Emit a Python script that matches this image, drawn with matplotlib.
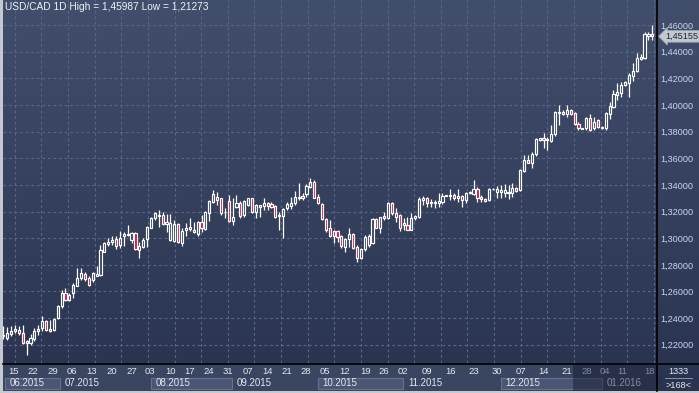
import numpy as np
import matplotlib
matplotlib.use('Agg')
import matplotlib.pyplot as plt
import matplotlib.transforms as mtransforms
from matplotlib.colors import LinearSegmentedColormap
from matplotlib.patches import Rectangle
from matplotlib.lines import Line2D

plt.rcParams['font.family'] = ['Liberation Sans', 'DejaVu Sans']

# daily USD/CAD candles, 168 bars (Jun 2015 - Jan 2016)
opens = [1.2265, 1.2250, 1.2280, 1.2300, 1.2313, 1.2288, 1.2225, 1.2213, 1.2245, 1.2300,
         1.2325, 1.2375, 1.2320, 1.2313, 1.2400, 1.2488, 1.2588, 1.2535, 1.2588, 1.2645,
         1.2700, 1.2733, 1.2700, 1.2688, 1.2720, 1.2725, 1.2900, 1.2955, 1.2970, 1.2995,
         1.2950, 1.3020, 1.3025, 1.2985, 1.3036, 1.2912, 1.2937, 1.2994, 1.3079, 1.3149,
         1.3169, 1.3174, 1.3104, 1.2987, 1.2979, 1.3104, 1.2962, 1.3062, 1.3087, 1.3059,
         1.3029, 1.3119, 1.3069, 1.3187, 1.3274, 1.3307, 1.3299, 1.3194, 1.3279, 1.3129,
         1.3237, 1.3262, 1.3174, 1.3249, 1.3299, 1.3199, 1.3237, 1.3244, 1.3244, 1.3254,
         1.3244, 1.3169, 1.3169, 1.3224, 1.3244, 1.3262, 1.3299, 1.3317, 1.3329, 1.3387,
         1.3419, 1.3312, 1.3254, 1.3144, 1.3079, 1.3054, 1.3054, 1.3017, 1.2937, 1.2994,
         1.3029, 1.2937, 1.2854, 1.2919, 1.2949, 1.2962, 1.3142, 1.3079, 1.3169, 1.3154,
         1.3267, 1.3187, 1.3174, 1.3099, 1.3099, 1.3062, 1.3149, 1.3162, 1.3287, 1.3299,
         1.3262, 1.3262, 1.3262, 1.3274, 1.3317, 1.3319, 1.3324, 1.3299, 1.3317, 1.3287,
         1.3337, 1.3329, 1.3367, 1.3307, 1.3282, 1.3287, 1.3367, 1.3349, 1.3349, 1.3342,
         1.3337, 1.3337, 1.3374, 1.3362, 1.3507, 1.3587, 1.3563, 1.3630, 1.3738, 1.3750,
         1.3735, 1.3730, 1.3780, 1.3938, 1.3933, 1.3930, 1.3963, 1.3938, 1.3855, 1.3818,
         1.3825, 1.3900, 1.3825, 1.3885, 1.3825, 1.3825, 1.3930, 1.3988, 1.4075, 1.4088,
         1.4150, 1.4163, 1.4220, 1.4255, 1.4345, 1.4350, 1.4520, 1.4530]
highs = [1.2338, 1.2330, 1.2338, 1.2350, 1.2338, 1.2350, 1.2238, 1.2280, 1.2325, 1.2350,
         1.2413, 1.2388, 1.2388, 1.2400, 1.2500, 1.2613, 1.2625, 1.2588, 1.2663, 1.2775,
         1.2775, 1.2750, 1.2713, 1.2750, 1.2788, 1.2950, 1.2975, 1.3005, 1.3013, 1.3013,
         1.3055, 1.3050, 1.3100, 1.3050, 1.3049, 1.2974, 1.2999, 1.3092, 1.3162, 1.3199,
         1.3212, 1.3199, 1.3179, 1.3179, 1.3137, 1.3112, 1.3074, 1.3112, 1.3149, 1.3124,
         1.3129, 1.3174, 1.3204, 1.3287, 1.3362, 1.3349, 1.3305, 1.3224, 1.3324, 1.3299,
         1.3324, 1.3279, 1.3287, 1.3304, 1.3304, 1.3254, 1.3252, 1.3299, 1.3274, 1.3269,
         1.3249, 1.3199, 1.3229, 1.3269, 1.3312, 1.3354, 1.3412, 1.3337, 1.3404, 1.3454,
         1.3437, 1.3329, 1.3262, 1.3149, 1.3137, 1.3062, 1.3062, 1.3024, 1.3004, 1.3079,
         1.3037, 1.2949, 1.2929, 1.3024, 1.3029, 1.3149, 1.3149, 1.3162, 1.3199, 1.3274,
         1.3274, 1.3229, 1.3179, 1.3149, 1.3162, 1.3187, 1.3174, 1.3312, 1.3317, 1.3312,
         1.3292, 1.3287, 1.3342, 1.3342, 1.3326, 1.3367, 1.3342, 1.3367, 1.3324, 1.3349,
         1.3351, 1.3437, 1.3387, 1.3324, 1.3299, 1.3374, 1.3374, 1.3392, 1.3399, 1.3404,
         1.3399, 1.3412, 1.3382, 1.3517, 1.3624, 1.3624, 1.3650, 1.3755, 1.3755, 1.3788,
         1.3763, 1.3850, 1.3955, 1.4000, 1.3963, 1.4000, 1.3970, 1.3945, 1.3875, 1.3827,
         1.3913, 1.3930, 1.3913, 1.3895, 1.3845, 1.3945, 1.4020, 1.4113, 1.4163, 1.4175,
         1.4180, 1.4238, 1.4313, 1.4388, 1.4380, 1.4550, 1.4550, 1.45987]
lows = [1.2245, 1.2238, 1.2263, 1.2288, 1.2275, 1.2205, 1.2127, 1.2200, 1.2230, 1.2275,
        1.2305, 1.2300, 1.2295, 1.2300, 1.2393, 1.2475, 1.2530, 1.2530, 1.2550, 1.2638,
        1.2688, 1.2680, 1.2645, 1.2675, 1.2713, 1.2720, 1.2895, 1.2945, 1.2950, 1.2920,
        1.2925, 1.2938, 1.3013, 1.2965, 1.2912, 1.2854, 1.2924, 1.2937, 1.3074, 1.3137,
        1.3087, 1.3099, 1.3049, 1.2979, 1.2974, 1.2962, 1.2944, 1.3019, 1.3057, 1.3037,
        1.3019, 1.3049, 1.3062, 1.3129, 1.3262, 1.3249, 1.3174, 1.3149, 1.3124, 1.3099,
        1.3224, 1.3149, 1.3162, 1.3244, 1.3187, 1.3149, 1.3162, 1.3212, 1.3212, 1.3224,
        1.3149, 1.3062, 1.3004, 1.3212, 1.3219, 1.3249, 1.3287, 1.3287, 1.3312, 1.3374,
        1.3299, 1.3254, 1.3137, 1.3049, 1.3012, 1.2967, 1.2974, 1.2924, 1.2894, 1.2937,
        1.2919, 1.2824, 1.2844, 1.2904, 1.2937, 1.2954, 1.3074, 1.3037, 1.3137, 1.3144,
        1.3174, 1.3124, 1.3054, 1.3062, 1.3058, 1.3058, 1.3137, 1.3149, 1.3249, 1.3237,
        1.3237, 1.3224, 1.3237, 1.3257, 1.3315, 1.3287, 1.3287, 1.3274, 1.3237, 1.3267,
        1.3335, 1.3324, 1.3274, 1.3274, 1.3274, 1.3282, 1.3362, 1.3299, 1.3299, 1.3307,
        1.3292, 1.3312, 1.3349, 1.3357, 1.3499, 1.3562, 1.3525, 1.3620, 1.3730, 1.3675,
        1.3663, 1.3720, 1.3770, 1.3850, 1.3925, 1.3913, 1.3925, 1.3850, 1.3813, 1.3816,
        1.3813, 1.3805, 1.3813, 1.3830, 1.3820, 1.3813, 1.3895, 1.3975, 1.4038, 1.4063,
        1.4145, 1.4063, 1.4180, 1.4245, 1.4338, 1.4345, 1.4488, 1.4488]
closes = [1.2275, 1.2288, 1.2305, 1.2315, 1.2288, 1.2213, 1.2210, 1.2250, 1.2300, 1.2318,
          1.2375, 1.2313, 1.2300, 1.2393, 1.2493, 1.2588, 1.2538, 1.2570, 1.2650, 1.2700,
          1.2738, 1.2695, 1.2650, 1.2738, 1.2730, 1.2913, 1.2963, 1.2970, 1.2988, 1.2945,
          1.3000, 1.3030, 1.3030, 1.3040, 1.2919, 1.2942, 1.2987, 1.3087, 1.3149, 1.3187,
          1.3174, 1.3104, 1.3119, 1.3112, 1.3104, 1.2974, 1.3054, 1.3079, 1.3067, 1.3044,
          1.3119, 1.3074, 1.3199, 1.3279, 1.3329, 1.3287, 1.3187, 1.3199, 1.3129, 1.3162,
          1.3262, 1.3167, 1.3279, 1.3299, 1.3199, 1.3249, 1.3249, 1.3262, 1.3262, 1.3237,
          1.3162, 1.3174, 1.3219, 1.3254, 1.3262, 1.3312, 1.3312, 1.3299, 1.3394, 1.3424,
          1.3304, 1.3262, 1.3144, 1.3062, 1.3019, 1.3017, 1.3012, 1.2942, 1.2994, 1.3029,
          1.2929, 1.2854, 1.2919, 1.3012, 1.3017, 1.3142, 1.3079, 1.3157, 1.3154, 1.3267,
          1.3187, 1.3162, 1.3074, 1.3112, 1.3062, 1.3149, 1.3167, 1.3292, 1.3299, 1.3267,
          1.3274, 1.3269, 1.3282, 1.3317, 1.3324, 1.3324, 1.3299, 1.3317, 1.3287, 1.3342,
          1.3349, 1.3367, 1.3299, 1.3292, 1.3292, 1.3367, 1.3372, 1.3367, 1.3362, 1.3362,
          1.3349, 1.3379, 1.3357, 1.3512, 1.3587, 1.3567, 1.3630, 1.3745, 1.3750, 1.3735,
          1.3745, 1.3780, 1.3945, 1.3950, 1.3950, 1.3963, 1.3930, 1.3855, 1.3825, 1.3825,
          1.3900, 1.3813, 1.3870, 1.3838, 1.3838, 1.3938, 1.3995, 1.4080, 1.4095, 1.4150,
          1.4175, 1.4225, 1.4255, 1.4355, 1.4363, 1.4530, 1.4530, 1.45155]

price_ticks = [1.22, 1.24, 1.26, 1.28, 1.30, 1.32, 1.34, 1.36, 1.38, 1.40, 1.42, 1.44, 1.46]

# weekly day labels, placed at bar index
day_pos = [2.75, 7.6, 12.8, 17.7, 22.8, 28, 33.1, 37.7, 42.9, 48, 52.9, 57.8, 63, 67.9, 73, 77.9,
           82.8, 87.9, 93.1, 98, 102.9, 109, 115.2, 121.1, 127, 133.2, 139.1, 145.1, 150.2,
           154.8, 159.2, 166.2]
day_labels = ['15', '22', '29', '06', '13', '20', '27', '03', '10', '17', '24', '31', '07', '14',
              '21', '28', '05', '12', '19', '26', '02', '09', '16', '23', '30', '07', '14', '21',
              '28', '04', '11', '18']

month_start = [0.4, 14.6, 37.9, 58.9, 81, 102.9, 128, 154, 168.2]
month_labels = ['06.2015', '07.2015', '08.2015', '09.2015', '10.2015', '11.2015', '12.2015', '01.2016']

W, H = 699, 393
fig = plt.figure(figsize=(W / 100, H / 100), dpi=100)
fig.patch.set_facecolor('#c4c8d0')


def px_axes(x0, y0, x1, y1):
    # box in pixels, measured from the top left corner
    return fig.add_axes([x0 / W, 1 - y1 / H, (x1 - x0) / W, (y1 - y0) / H])


# gradient background
bg = px_axes(3, 0, 699, 391)
cmap = LinearSegmentedColormap.from_list('bg', ['#414e6c', '#29334f'])
bg.imshow(np.linspace(0, 1, 256)[:, None], aspect='auto', cmap=cmap, extent=[0, 1, 0, 1])
bg.axis('off')

ax = px_axes(3, 0, 657, 363)
ax.patch.set_alpha(0)
ax.set_xlim(-0.08, 168.2)
ax.set_ylim(1.20633, 1.4788)

grid_kw = dict(color='#5a6685', linewidth=0.8, linestyle=(0, (2.5, 2.5)), zorder=1)
for p in price_ticks:
    ax.axhline(p, **grid_kw)
for gx in np.arange(2.97, 168, 6.85):
    ax.axvline(gx, **grid_kw)

o = np.array(opens); h = np.array(highs); l = np.array(lows); c = np.array(closes)
x = np.arange(len(o))
top = np.maximum(o, c)
bot = np.minimum(o, c)
ax.vlines(x, top, h, color='white', linewidth=0.9, zorder=3)
ax.vlines(x, l, bot, color='white', linewidth=0.9, zorder=3)
up = c >= o
ax.bar(x[up], (top - bot)[up], bottom=bot[up], width=0.55, facecolor='#34405e',
       edgecolor='white', linewidth=0.85, zorder=4)
ax.bar(x[~up], (top - bot)[~up], bottom=bot[~up], width=0.55, facecolor='#d8103c',
       edgecolor='white', linewidth=0.85, zorder=4)

for s in ax.spines.values():
    s.set_visible(False)
ax.set_xticks([])
ax.yaxis.tick_right()
ax.set_yticks(price_ticks)
ax.set_yticklabels([f'{p:.5f}'.replace('.', ',') for p in price_ticks])
ax.tick_params(axis='y', length=0, pad=2.5, labelsize=6.6, labelcolor='#c8d6ee')

# current price tag
trans = mtransforms.blended_transform_factory(ax.transAxes, ax.transData)
ax.text(1.012, closes[-1], f'{closes[-1]:.5f}'.replace('.', ','), transform=trans,
        fontsize=6.6, color='#1c2333', va='center', ha='left', zorder=6,
        bbox=dict(boxstyle='larrow,pad=0.15', fc='#c2c8d2', ec='#9aa4b4', lw=0.6))

fig.text(5 / W, 1 - 2 / H, 'USD/CAD 1D High = 1,45987 Low = 1,21273', fontsize=7.3,
         color='#eef1f7', va='top', ha='left')

# time axis strip
axb = px_axes(3, 364, 657, 391)
axb.set_xlim(ax.get_xlim())
axb.set_ylim(0, 1)
axb.axis('off')
axb.add_patch(Rectangle((0, 0), 1, 1, transform=axb.transAxes, fc='#3a4562', ec='none', zorder=0))
for pos, lab in zip(day_pos, day_labels):
    axb.text(pos, 0.72, lab, fontsize=6.8, color='#e2e7f0', ha='center', va='center')
for i, lab in enumerate(month_labels):
    if i % 2 == 0:
        axb.add_patch(Rectangle((month_start[i], 0.08), month_start[i + 1] - month_start[i], 0.42,
                                fc='#4a5673', ec='#66728e', lw=0.8, zorder=1))
    axb.text(month_start[i] + 1.2, 0.28, lab, fontsize=7, color='#e2e7f0', ha='left',
             va='center', zorder=2)
axb.add_patch(Rectangle((146.5, 0), 30, 0.95, fc='#10182a', alpha=0.45, ec='none', zorder=5))

# right bottom corner box
fig.text(678 / W, 1 - 371.5 / H, '1333', fontsize=6.6, color='#e2e7f0', ha='center', va='center')
fig.text(678 / W, 1 - 385 / H, '>168<', fontsize=6.6, color='#e2e7f0', ha='center', va='center')
fig.add_artist(Line2D([665 / W, 692 / W], [1 - 377.5 / H] * 2, color='#9aa4b8', lw=0.6))

# black separators
fig.add_artist(Line2D([657 / W] * 2, [1 - 391 / H, 1], color='black', lw=1.2))
fig.add_artist(Line2D([3 / W, 699 / W], [1 - 363.5 / H] * 2, color='black', lw=1.2))

fig.savefig('out.png', dpi=100, facecolor=fig.get_facecolor())
